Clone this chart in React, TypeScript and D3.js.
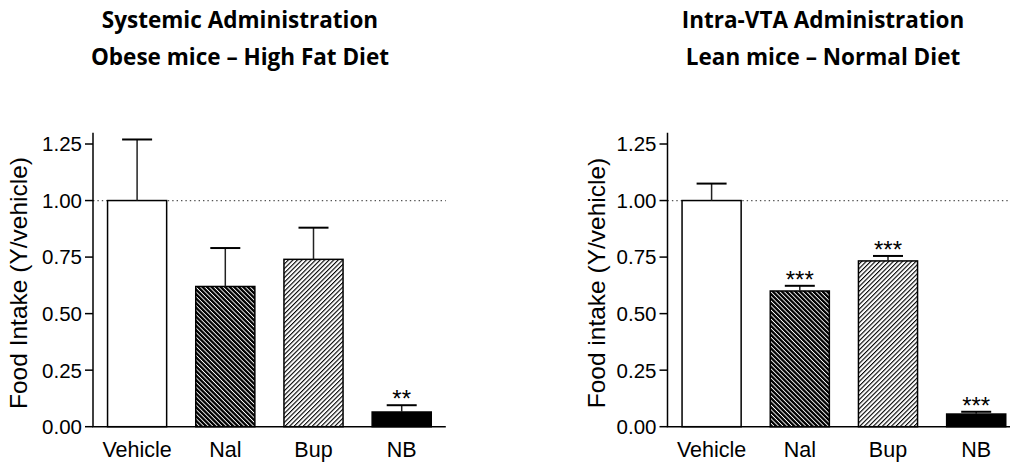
import React from "react";
import * as d3 from "d3";

// Food intake normalised to vehicle, two experiments
const categories = ["Vehicle", "Nal", "Bup", "NB"];
const yTicks = [0, 0.25, 0.5, 0.75, 1.0, 1.25];

const systemicMeans = [1.0, 0.62, 0.74, 0.065];
const systemicErrors = [0.27, 0.17, 0.14, 0.03];
const systemicStars = ["", "", "", "**"];

const vtaMeans = [1.0, 0.6, 0.733, 0.056];
const vtaErrors = [0.075, 0.023, 0.022, 0.01];
const vtaStars = ["", "***", "***", "***"];

const fills = ["#ffffff", "url(#hatchDense)", "url(#hatchLight)", "#000000"];

const W = 1010;
const H = 462;
const Y0 = 426.7;
const YTOP = 132.7;
const STEP = 88.2;
const SANS = "'Liberation Sans', Arial, Helvetica, sans-serif";

const y = d3.scaleLinear().domain([0, 1.3]).range([Y0, YTOP]);
const fmt = d3.format(".2f");

type PanelProps = {
  axisX: number;
  titleX: number;
  title: string[];
  yLabel: string;
  yLabelX: number;
  means: number[];
  errors: number[];
  stars: string[];
};

function Panel({ axisX, titleX, title, yLabel, yLabelX, means, errors, stars }: PanelProps) {
  const x = d3
    .scaleBand<string>()
    .domain(categories)
    .range([axisX, axisX + STEP * categories.length])
    .paddingInner(0.33)
    .paddingOuter(0.165);
  const bw = x.bandwidth();
  const xEnd = axisX + STEP * categories.length;

  return (
    <g>
      {title.map((t, i) => (
        <text
          key={t}
          x={titleX}
          y={27.5 + i * 37}
          textAnchor="middle"
          fontFamily="'Open Sans', Lato, sans-serif"
          fontWeight="bold"
          fontSize={22.5}
          fill="#000"
        >
          {t}
        </text>
      ))}

      {/* reference line at vehicle level */}
      <line
        x1={axisX}
        x2={xEnd}
        y1={y(1)}
        y2={y(1)}
        stroke="#555"
        strokeWidth={1.3}
        strokeDasharray="1.4,3"
      />

      {categories.map((c, i) => {
        const bx = x(c) as number;
        const cx = bx + bw / 2;
        const top = y(means[i]);
        const errTop = y(means[i] + errors[i]);
        return (
          <g key={c}>
            <rect
              x={bx}
              y={top}
              width={bw}
              height={Y0 - top}
              fill={fills[i]}
              stroke="#000"
              strokeWidth={1.5}
            />
            <line x1={cx} x2={cx} y1={top} y2={errTop} stroke="#222" strokeWidth={1.5} />
            <line x1={cx - 15} x2={cx + 15} y1={errTop} y2={errTop} stroke="#000" strokeWidth={2} />
            {stars[i] && (
              <text x={cx} y={errTop + 2} textAnchor="middle" fontFamily={SANS} fontSize={24} fill="#000">
                {stars[i]}
              </text>
            )}
            <text x={cx} y={457} textAnchor="middle" fontFamily={SANS} fontSize={21.5} fill="#000">
              {c}
            </text>
          </g>
        );
      })}

      {/* axes */}
      <line x1={axisX} x2={axisX} y1={YTOP} y2={Y0} stroke="#000" strokeWidth={1.5} />
      <line x1={axisX - 0.75} x2={xEnd} y1={Y0} y2={Y0} stroke="#000" strokeWidth={1.5} />
      {yTicks.map((t) => (
        <g key={t}>
          <line x1={axisX - 8} x2={axisX} y1={y(t)} y2={y(t)} stroke="#000" strokeWidth={1.5} />
          <text
            x={axisX - 11}
            y={y(t)}
            dy="0.36em"
            textAnchor="end"
            fontFamily={SANS}
            fontSize={20.5}
            fill="#000"
          >
            {fmt(t)}
          </text>
        </g>
      ))}
      <text
        transform={`translate(${yLabelX},${283}) rotate(-90)`}
        textAnchor="middle"
        fontFamily={SANS}
        fontSize={24.5}
        fill="#000"
      >
        {yLabel}
      </text>
    </g>
  );
}

export default function App() {
  return (
    <svg
      width={W}
      height={H}
      viewBox={`0 0 ${W} ${H}`}
      style={{ position: "absolute", left: 0, top: 0, background: "#fff" }}
    >
      <defs>
        <pattern
          id="hatchDense"
          patternUnits="userSpaceOnUse"
          width={3.2}
          height={3.2}
          patternTransform="rotate(45)"
        >
          <rect width={3.2} height={3.2} fill="#000" />
          <rect y={0} width={3.2} height={0.9} fill="#fff" />
        </pattern>
        <pattern
          id="hatchLight"
          patternUnits="userSpaceOnUse"
          width={3.2}
          height={3.2}
          patternTransform="rotate(-45)"
        >
          <rect width={3.2} height={3.2} fill="#fff" />
          <rect y={0} width={3.2} height={1.1} fill="#000" />
        </pattern>
      </defs>
      <rect width={W} height={H} fill="#fff" />
      <Panel
        axisX={93}
        titleX={240}
        title={["Systemic Administration", "Obese mice \u2013 High Fat Diet"]}
        yLabel="Food Intake (Y/vehicle)"
        yLabelX={27}
        means={systemicMeans}
        errors={systemicErrors}
        stars={systemicStars}
      />
      <Panel
        axisX={667.5}
        titleX={823}
        title={["Intra-VTA Administration", "Lean mice \u2013 Normal Diet"]}
        yLabel="Food intake (Y/vehicle)"
        yLabelX={605}
        means={vtaMeans}
        errors={vtaErrors}
        stars={vtaStars}
      />
    </svg>
  );
}
